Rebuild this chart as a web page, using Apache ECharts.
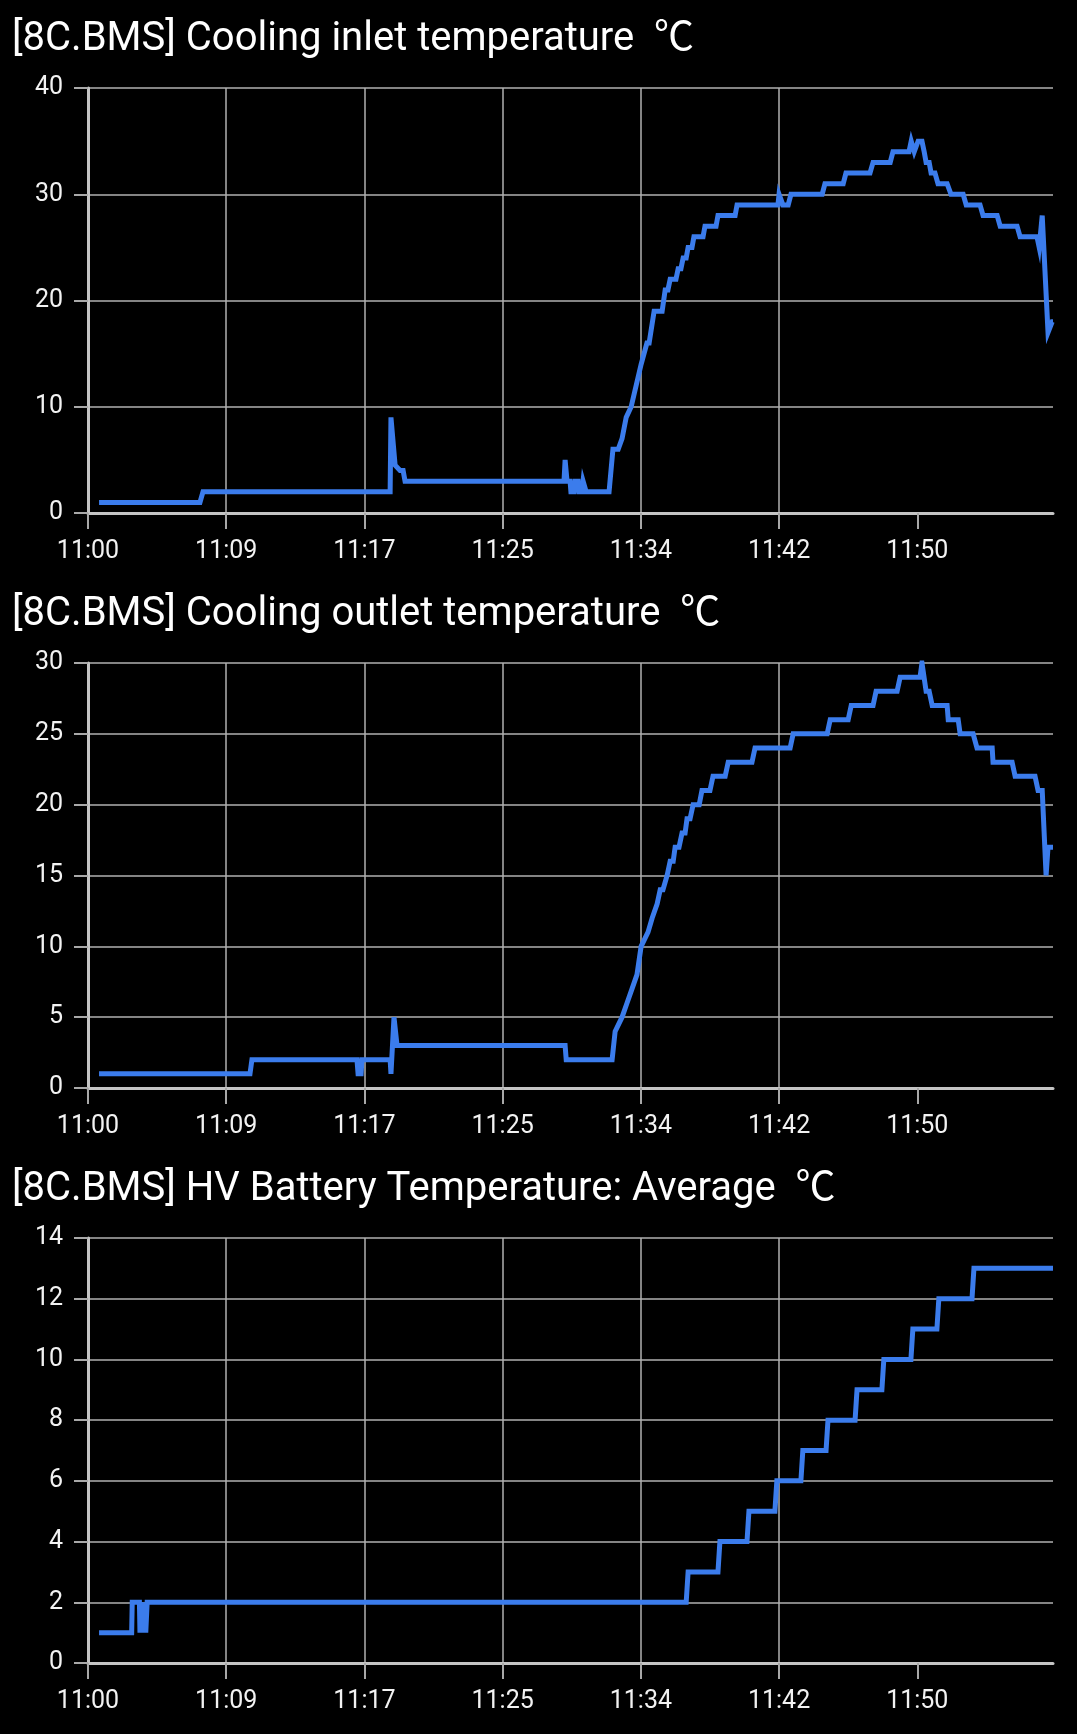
<!DOCTYPE html>
<html>
<head>
<meta charset="utf-8">
<script src="https://cdn.jsdelivr.net/npm/echarts@6/dist/echarts.min.js"></script>
<style>
html,body{margin:0;padding:0;background:#000;}
#c{width:1077px;height:1734px;}
</style>
</head>
<body>
<div id="c"></div>
<script>
// ---- text ----
const titles = [
  '[8C.BMS] Cooling inlet temperature  \u2103',
  '[8C.BMS] Cooling outlet temperature  \u2103',
  '[8C.BMS] HV Battery Temperature: Average  \u2103'
];
// x axis: seconds elapsed from axis origin; one labelled tick every TICK_STEP seconds
const tickLabels = ['11:00', '11:09', '11:17', '11:25', '11:34', '11:42', '11:50'];
const TICK_STEP = 500;
const X_END = 3491;

// y axis ranges
const yMax = [40, 30, 14];
const yStep = [10, 5, 2];

// ---- series: [seconds, °C] ----
const inlet = [
  [40,1],[405,1],[416,2],[1093,2],[1096,9],[1103,9],[1111,4.5],[1129,4],[1140,4],[1147,3],
  [1722,3],[1726,5],[1729,5],[1733,3],[1744,3],[1747,2],[1758,2],[1762,3],[1773,3],[1776,2],
  [1787,2],[1791,3],[1798,3],[1802,2],[1885,2],[1899,6],[1918,6],[1932,7],[1939,7],[1947,9],
  [1954,9],[1965,10],[1972,10],[1983,12],[1990,12],[2001,14],[2008,14],[2022,16],[2030,16],
  [2048,19],[2077,19],[2088,21],[2098,21],[2106,22],[2127,22],[2135,23],[2145,23],[2153,24],
  [2164,24],[2171,25],[2185,25],[2192,26],[2225,26],[2232,27],[2272,27],[2279,28],[2341,28],
  [2348,29],[2496,29],[2500,30],[2507,30],[2514,29],[2533,29],[2543,30],[2656,30],[2666,31],
  [2732,31],[2742,32],[2829,32],[2840,33],[2902,33],[2912,34],[2970,34],[2978,35],[2985,35],
  [2989,34],[2996,34],[3003,35],[3017,35],[3025,34],[3032,33],[3043,33],[3050,32],[3064,32],
  [3075,31],[3108,31],[3122,30],[3166,30],[3177,29],[3227,29],[3238,28],[3289,28],[3300,27],
  [3361,27],[3372,26],[3433,26],[3441,25],[3444,25],[3452,28],[3459,28],[3473,17],[3480,17],
  [3488,18],[3491,18]
];
const outlet = [
  [40,1],[586,1],[593,2],[973,2],[977,1],[988,1],[991,2],[1093,2],[1096,1],[1103,1],[1107,5],
  [1114,5],[1118,3],[1726,3],[1730,2],[1896,2],[1907,4],[1914,4],[1932,5],[1939,5],[1950,6],
  [1957,6],[1968,7],[1975,7],[1986,8],[1993,8],[2001,10],[2008,10],[2026,11],[2033,11],
  [2041,12],[2048,12],[2059,13],[2066,13],[2070,14],[2080,14],[2095,15],[2102,15],[2106,16],
  [2117,16],[2124,17],[2138,17],[2149,18],[2160,18],[2167,19],[2178,19],[2189,20],[2211,20],
  [2221,21],[2250,21],[2261,22],[2305,22],[2316,23],[2402,23],[2413,24],[2540,24],[2551,25],
  [2674,25],[2685,26],[2750,26],[2761,27],[2840,27],[2851,28],[2927,28],[2938,29],[3010,29],
  [3017,30],[3021,30],[3032,28],[3043,28],[3054,27],[3108,27],[3112,26],[3148,26],[3155,25],
  [3202,25],[3216,24],[3271,24],[3274,23],[3343,23],[3354,22],[3426,22],[3437,21],[3452,21],
  [3466,15],[3473,17],[3491,17]
];
const average = [
  [40,1],[158,1],[160,2],[186,2],[188,1],[190,2],[197,2],[199,1],[201,2],[207,2],[209,1],
  [212,1],[214,2],[2164,2],[2171,3],[2279,3],[2286,4],[2384,4],[2391,5],[2485,5],[2492,6],
  [2579,6],[2586,7],[2670,7],[2677,8],[2775,8],[2782,9],[2872,9],[2879,10],[2977,10],
  [2984,11],[3071,11],[3078,12],[3198,12],[3205,13],[3491,13]
];
const seriesData = [inlet, outlet, average];

// ---- styling ----
const FONT = 'Roboto, "Noto Sans CJK SC", sans-serif';
const BLUE = '#3b7cec';
const AXIS = '#c4c4c4';
const TICK = '#a8a8a8';
const GRID = '#b0b0b0';
const LABEL = '#f2f2f2';
const PANEL = 575;

const tickValues = tickLabels.map((_, i) => i * TICK_STEP);

const chart = echarts.init(document.getElementById('c'), null, {renderer: 'canvas'});
const idx = [0, 1, 2];
chart.setOption({
  backgroundColor: '#000',
  animation: false,
  title: idx.map(i => ({
    text: titles[i], left: 12, top: 20 + i * PANEL, padding: 0,
    textStyle: {color: '#ffffff', fontSize: 40, fontWeight: 'normal', fontFamily: FONT}
  })),
  grid: idx.map(i => ({left: 88, top: 88 + i * PANEL, width: 965, height: 425})),
  xAxis: idx.map(i => ({
    gridIndex: i, type: 'value', min: 0, max: X_END, interval: TICK_STEP,
    axisLine: {show: true, onZero: false, lineStyle: {color: AXIS, width: 3}},
    axisTick: {show: true, length: 16, customValues: tickValues, lineStyle: {color: TICK, width: 2}},
    axisLabel: {
      customValues: tickValues, color: LABEL, fontSize: 25, fontFamily: FONT, margin: 26,
      formatter: v => tickLabels[Math.round(v / TICK_STEP)] || ''
    },
    splitLine: {show: true, showMaxLine: false, lineStyle: {color: GRID, width: 1.5}}
  })),
  yAxis: idx.map(i => ({
    gridIndex: i, type: 'value', min: 0, max: yMax[i], interval: yStep[i],
    axisLine: {show: true, onZero: false, lineStyle: {color: AXIS, width: 3}},
    axisTick: {show: true, length: 14, lineStyle: {color: TICK, width: 2}},
    axisLabel: {color: LABEL, fontSize: 25, fontFamily: FONT, margin: 25},
    splitLine: {show: true, lineStyle: {color: GRID, width: 1.5}}
  })),
  series: idx.map(i => ({
    type: 'line', xAxisIndex: i, yAxisIndex: i, data: seriesData[i],
    showSymbol: false, symbol: 'none',
    lineStyle: {color: BLUE, width: 5, join: 'miter'},
    itemStyle: {color: BLUE}
  }))
});
</script>
</body>
</html>
